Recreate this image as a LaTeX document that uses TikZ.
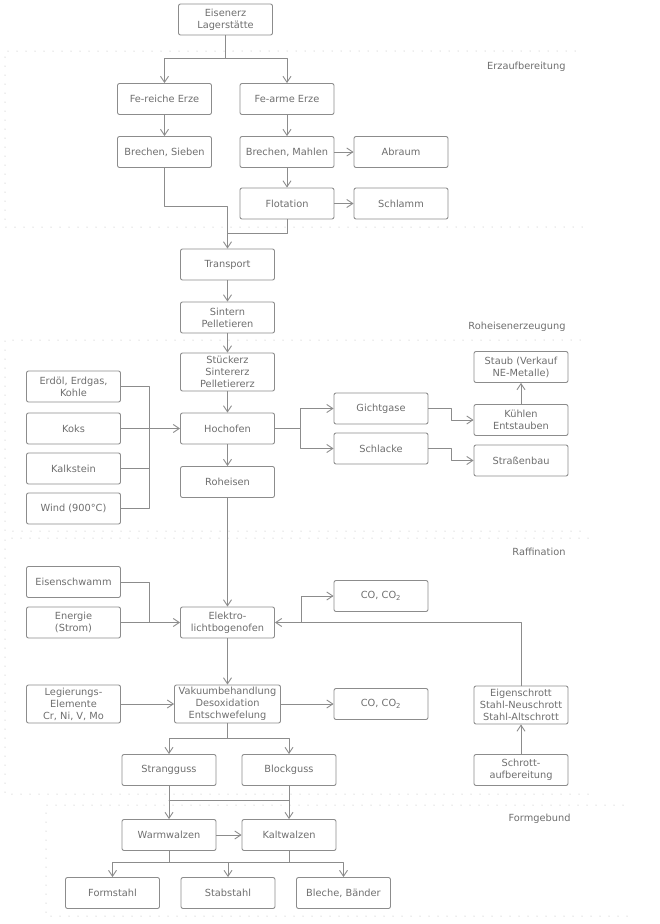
\documentclass[tikz,border=0pt]{standalone}
\usepackage{fontspec}
\setmainfont{DejaVu Sans}
\usetikzlibrary{arrows.meta}
\definecolor{boxgray}{HTML}{8C8C8C}
\definecolor{textgray}{HTML}{6E6E6E}
\definecolor{dotgray}{HTML}{B0B0B0}

\begin{document}
\begin{tikzpicture}[x=1pt,y=-1pt,line cap=round,line join=round,
  box/.style={draw=boxgray,line width=0.9pt,rounded corners=2pt,minimum width=94pt,
    minimum height=31pt,inner sep=1pt,align=center,text=textgray,
    font=\fontsize{9.8}{12}\selectfont},
  tall/.style={box,minimum height=38pt},
  link/.style={draw=boxgray,line width=0.9pt},
  arr/.style={link,-{Straight Barb[length=6pt,width=8pt]}},
  zone/.style={dotgray,line width=1pt,dash pattern=on 0pt off 9pt},
  zonelabel/.style={anchor=east,text=textgray,font=\fontsize{9.8}{12}\selectfont}]
  \useasboundingbox (0,0) rectangle (660,924);
  % Zonen
  \draw[zone] (575,51) -- (5,51) -- (5,227) -- (583,227);
  \draw[zone] (580,340) -- (5,340) -- (5,531) -- (583,531);
  \draw[zone] (588,538) -- (5,538) -- (5,794) -- (588,794);
  \draw[zone] (623,805) -- (46,805) -- (46,916) -- (628,916);
  \node[zonelabel] (lerz) at (569,67) {Erzaufbereitung};
  \node[zonelabel] (lroh) at (569,327) {Roheisenerzeugung};
  \node[zonelabel] (lraf) at (569,552) {Raffination};
  \node[zonelabel] (lform) at (574,819) {Formgebund};

  % Erzaufbereitung
  \node[box] (eisenerz) at (225.5,19.5) {Eisenerz\\Lagerstätte};
  \node[box] (fereich) at (164.5,99) {Fe-reiche Erze};
  \node[box] (fearm) at (287,99) {Fe-arme Erze};
  \node[box] (brsieben) at (164.5,152) {Brechen, Sieben};
  \node[box] (brmahlen) at (287,152) {Brechen, Mahlen};
  \node[box] (abraum) at (401,152) {Abraum};
  \node[box] (flotation) at (287,203.5) {Flotation};
  \node[box] (schlamm) at (401,203.5) {Schlamm};

  % Roheisenerzeugung
  \node[box] (transport) at (227.5,264.5) {Transport};
  \node[box] (sintern) at (227.5,317.5) {Sintern\\Pelletieren};
  \node[tall] (stueckerz) at (227.5,372) {Stückerz\\Sintererz\\Pelletiererz};
  \node[box] (erdoel) at (73.5,386.5) {Erdöl, Erdgas,\\Kohle};
  \node[box] (koks) at (73.5,428.5) {Koks};
  \node[box] (kalkstein) at (73.5,468.5) {Kalkstein};
  \node[box] (wind) at (73.5,508.5) {Wind (900°C)};
  \node[box] (hochofen) at (227.5,428.5) {Hochofen};
  \node[box] (roheisen) at (227.5,482) {Roheisen};
  \node[box] (gichtgase) at (381,408.5) {Gichtgase};
  \node[box] (schlacke) at (381,448.5) {Schlacke};
  \node[box] (staub) at (521,367) {Staub (Verkauf\\NE-Metalle)};
  \node[box] (kuehlen) at (521,420) {Kühlen\\Entstauben};
  \node[box] (strassenbau) at (521,460.5) {Straßenbau};

  % Raffination
  \node[box] (eisenschwamm) at (73.5,582) {Eisenschwamm};
  \node[box] (energie) at (73.5,622.5) {Energie\\(Strom)};
  \node[box] (elektro) at (227.5,622.5) {Elektro-\\lichtbogenofen};
  \node[box] (coeins) at (381,596) {CO, CO\textsubscript{2}};
  \node[tall] (legierung) at (73.5,704) {Legierungs-\\Elemente\\Cr, Ni, V, Mo};
  \node[tall,minimum width=106pt] (vakuum) at (227.5,704) {Vakuumbehandlung\\Desoxidation\\Entschwefelung};
  \node[box] (cozwei) at (381,704) {CO, CO\textsubscript{2}};
  \node[tall] (eigenschrott) at (521,705) {Eigenschrott\\Stahl-Neuschrott\\Stahl-Altschrott};
  \node[box] (strangguss) at (169,770) {Strangguss};
  \node[box] (blockguss) at (289,770) {Blockguss};
  \node[box] (schrott) at (521,770) {Schrott-\\aufbereitung};

  % Formgebung
  \node[box] (warmwalzen) at (169,835) {Warmwalzen};
  \node[box] (kaltwalzen) at (289,835) {Kaltwalzen};
  \node[box] (formstahl) at (112.5,893) {Formstahl};
  \node[box] (stabstahl) at (228,893) {Stabstahl};
  \node[box] (bleche) at (343.5,893) {Bleche, Bänder};

  % Knotenpunkte
  \coordinate (s1) at (225.5,58);
  \coordinate (t1) at (227.5,206);
  \coordinate (t2) at (227.5,233);
  \coordinate (hin) at (149,428.5);
  \coordinate (hout) at (300,428.5);
  \coordinate (g1) at (451,420);
  \coordinate (g2) at (451,460.5);
  \coordinate (ein) at (149,622.5);
  \coordinate (cob) at (301,622.5);
  \coordinate (gb) at (227.5,738);
  \coordinate (wbl) at (169,800);
  \coordinate (wbr) at (289,800);
  \coordinate (pl) at (169,862);
  \coordinate (pr) at (289,862);

  % Verbindungen
  \draw[link] (eisenerz) -- (s1);
  \draw[arr] (s1) -| (fereich);
  \draw[arr] (s1) -| (fearm);
  \draw[arr] (fereich) -- (brsieben);
  \draw[arr] (fearm) -- (brmahlen);
  \draw[arr] (brmahlen) -- (abraum);
  \draw[arr] (brmahlen) -- (flotation);
  \draw[arr] (flotation) -- (schlamm);
  \draw[arr] (brsieben) |- (t1) -- (transport);
  \draw[link] (flotation) |- (t2);
  \draw[arr] (transport) -- (sintern);
  \draw[arr] (sintern) -- (stueckerz);
  \draw[arr] (stueckerz) -- (hochofen);
  \draw[link] (erdoel) -| (hin);
  \draw[link] (kalkstein) -| (hin);
  \draw[link] (wind) -| (hin);
  \draw[arr] (koks) -- (hochofen);
  \draw[arr] (hochofen) -- (roheisen);
  \draw[link] (hochofen) -- (hout);
  \draw[arr] (hout) |- (gichtgase);
  \draw[arr] (hout) |- (schlacke);
  \draw[arr] (gichtgase) -| (g1) -- (kuehlen);
  \draw[arr] (schlacke) -| (g2) -- (strassenbau);
  \draw[arr] (kuehlen) -- (staub);
  \draw[arr] (roheisen) -- (elektro);
  \draw[link] (eisenschwamm) -| (ein);
  \draw[arr] (energie) -- (elektro);
  \draw[arr] (eigenschrott) |- (elektro);
  \draw[arr] (cob) |- (coeins);
  \draw[arr] (elektro) -- (vakuum);
  \draw[arr] (legierung) -- (vakuum);
  \draw[arr] (vakuum) -- (cozwei);
  \draw[arr] (schrott) -- (eigenschrott);
  \draw[link] (vakuum) -- (gb);
  \draw[arr] (gb) -| (strangguss);
  \draw[arr] (gb) -| (blockguss);
  \draw[arr] (strangguss) -- (warmwalzen);
  \draw[arr] (blockguss) -- (kaltwalzen);
  \draw[link] (wbl) -- (wbr);
  \draw[arr] (warmwalzen) -- (kaltwalzen);
  \draw[link] (warmwalzen) -- (pl);
  \draw[link] (kaltwalzen) -- (pr);
  \draw[link] (pl) -- (pr);
  \draw[arr] (pl) -| (formstahl);
  \draw[arr] (pl) -| (stabstahl);
  \draw[arr] (pr) -| (bleche);
\end{tikzpicture}
\end{document}
